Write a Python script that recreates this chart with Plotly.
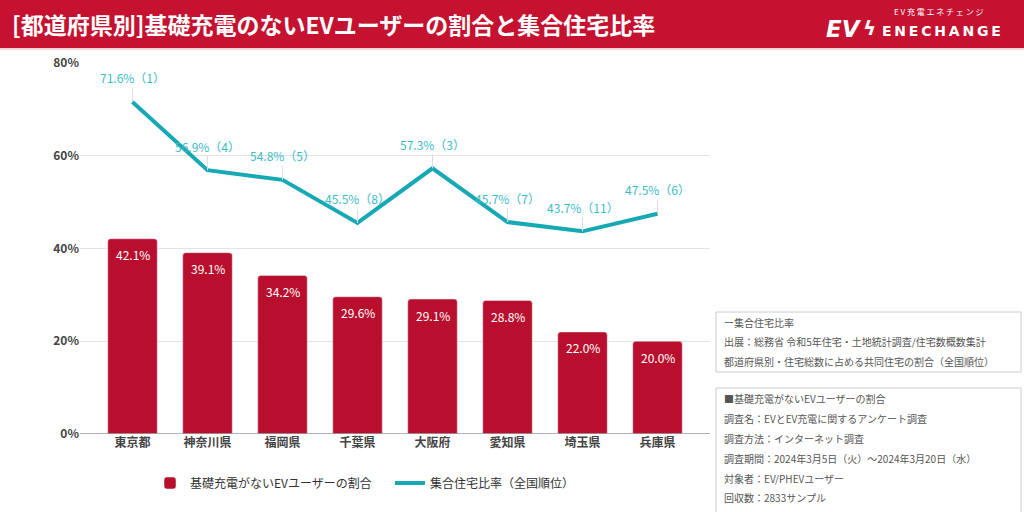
import plotly.graph_objects as go

# ---- data ----
prefectures = ["東京都", "神奈川県", "福岡県", "千葉県", "大阪府", "愛知県", "埼玉県", "兵庫県"]
no_home_charging_pct = [42.1, 39.1, 34.2, 29.6, 29.1, 28.8, 22.0, 20.0]
apartment_ratio_pct = [71.6, 56.9, 54.8, 45.5, 57.3, 45.7, 43.7, 47.5]
apartment_rank = [1, 4, 5, 8, 3, 7, 11, 6]
y_ticks = [0, 20, 40, 60, 80]
y_tick_labels = ["0%", "20%", "40%", "60%", "80%"]

title = "[都道府県別]基礎充電のないEVユーザーの割合と集合住宅比率"
bar_name = "基礎充電がないEVユーザーの割合"
line_name = "集合住宅比率（全国順位）"
note1 = ["ー集合住宅比率",
         "出展：総務省 令和5年住宅・土地統計調査/住宅数概数集計",
         "都道府県別・住宅総数に占める共同住宅の割合（全国順位）"]
note2 = ["■基礎充電がないEVユーザーの割合",
         "調査名：EVとEV充電に関するアンケート調査",
         "調査方法：インターネット調査",
         "調査期間：2024年3月5日（火）〜2024年3月20日（水）",
         "対象者：EV/PHEVユーザー",
         "回収数：2833サンプル"]

# ---- style ----
W, H = 1024, 512
L, R, T, B = 80, 314, 63, 78
BAR_RED = "#b80f2e"
HEAD_RED = "#c41230"
TEAL = "#17a9b3"
TEAL_TXT = "#3bbcc5"
FONT = "Noto Sans CJK JP"

PW = W - L - R
PH = H - T - B


def px(x):
    return (x - L) / PW


def py(y):
    return (H - B - y) / PH


fig = go.Figure()
fig.add_trace(go.Bar(
    x=prefectures, y=no_home_charging_pct, name=bar_name,
    marker=dict(color=BAR_RED, cornerradius=3), width=0.66,
))
fig.add_trace(go.Scatter(
    x=prefectures, y=apartment_ratio_pct, name=line_name, mode="lines",
    line=dict(color=TEAL, width=4),
))

annotations = []
for p, v in zip(prefectures, no_home_charging_pct):
    annotations.append(dict(
        x=p, y=v, xref="x", yref="y", text=f"{v:.1f}%", showarrow=False,
        yanchor="middle", yshift=-16,
        font=dict(family=FONT, size=12, color="white"),
    ))
for p, v, r in zip(prefectures, apartment_ratio_pct, apartment_rank):
    annotations.append(dict(
        x=p, y=v, xref="x", yref="y", text=f"{v:.1f}%（{r}）",
        showarrow=True, arrowhead=0, arrowwidth=1, arrowcolor="#dddddd",
        ax=0, ay=-24, standoff=0,
        font=dict(family=FONT, size=12, color=TEAL_TXT),
    ))

# header
annotations.append(dict(
    xref="paper", yref="paper", x=px(10), y=py(24), xanchor="left", yanchor="middle",
    text=f"<b>{title}</b>", showarrow=False,
    font=dict(family=FONT, size=23, color="white"),
))
annotations.append(dict(
    xref="paper", yref="paper", x=px(824), y=py(29), xanchor="left", yanchor="middle",
    text="<b><i>EV</i></b>", showarrow=False,
    font=dict(family="DejaVu Sans", size=23, color="white"),
))
annotations.append(dict(
    xref="paper", yref="paper", x=px(861), y=py(28), xanchor="left", yanchor="middle",
    text="<b>ϟ</b>", showarrow=False,
    font=dict(family="DejaVu Sans", size=20, color="white"),
))
annotations.append(dict(
    xref="paper", yref="paper", x=px(880), y=py(31), xanchor="left", yanchor="middle",
    text="<b>E\u2009N\u2009E\u2009C\u2009H\u2009A\u2009N\u2009G\u2009E</b>", showarrow=False,
    font=dict(family="DejaVu Sans", size=14, color="white"),
))
annotations.append(dict(
    xref="paper", yref="paper", x=px(892), y=py(11), xanchor="left", yanchor="middle",
    text="E V 充 電 エ ネ チ ェ ン ジ", showarrow=False,
    font=dict(family=FONT, size=8, color="white"),
))

# notes
for i, t in enumerate(note1):
    annotations.append(dict(
        xref="paper", yref="paper", x=px(722), y=py(322 + i * 19.5),
        xanchor="left", yanchor="middle", text=t, showarrow=False,
        font=dict(family=FONT, size=10, color="#555555"),
    ))
for i, t in enumerate(note2):
    annotations.append(dict(
        xref="paper", yref="paper", x=px(722), y=py(398 + i * 20),
        xanchor="left", yanchor="middle", text=t, showarrow=False,
        font=dict(family=FONT, size=10, color="#555555"),
    ))

shapes = [
    dict(type="rect", xref="paper", yref="paper", x0=px(0), x1=px(W), y0=py(0), y1=py(48),
         fillcolor=HEAD_RED, line=dict(width=0), layer="below"),
    dict(type="line", xref="paper", yref="paper", x0=px(0), x1=px(W), y0=py(49), y1=py(49),
         line=dict(color="#f2c4cc", width=1.5)),
    dict(type="rect", xref="paper", yref="paper", x0=px(716), x1=px(1021), y0=py(312), y1=py(372),
         line=dict(color="#cccccc", width=1), fillcolor="white"),
    dict(type="rect", xref="paper", yref="paper", x0=px(716), x1=px(1021), y0=py(388), y1=py(516),
         line=dict(color="#cccccc", width=1), fillcolor="white"),
    dict(type="line", xref="paper", yref="y", x0=0, x1=1, y0=0, y1=0,
         line=dict(color="#999999", width=1.5)),
]

fig.update_layout(
    width=W, height=H, margin=dict(l=L, r=R, t=T, b=B, autoexpand=False),
    paper_bgcolor="white", plot_bgcolor="white",
    font=dict(family=FONT, color="#333333"),
    showlegend=True,
    legend=dict(orientation="h", x=px(150), xanchor="left", y=py(483), yanchor="middle",
                font=dict(family=FONT, size=12, color="#333333"), itemwidth=30,
                entrywidth=195, entrywidthmode="pixels"),
    xaxis=dict(range=[-0.7, 7.7], showgrid=False, showline=False, ticks="",
               tickfont=dict(family=FONT, size=12, color="#444444", weight="bold")),
    yaxis=dict(range=[0, 80], tickvals=y_ticks, ticktext=y_tick_labels, showgrid=True,
               gridcolor="#e3e3e3", gridwidth=1, zeroline=False, showline=False,
               tickfont=dict(family=FONT, size=12, color="#444444", weight="bold")),
    annotations=annotations, shapes=shapes, bargap=0.34,
)

fig.write_html("out.html", config={"displayModeBar": False},
               post_script="document.body.style.margin='0';")
